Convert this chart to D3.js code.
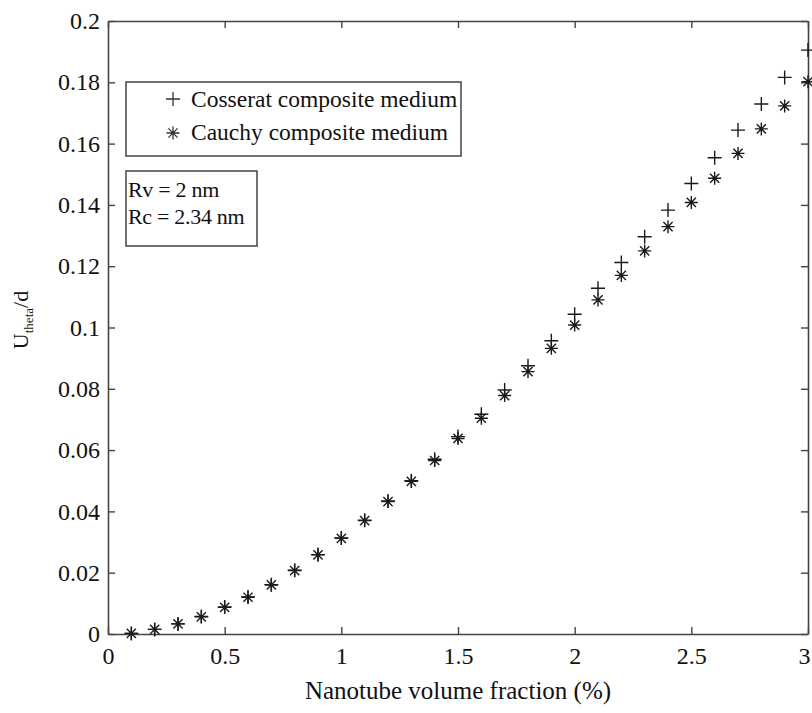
<!DOCTYPE html>
<html>
<head>
<meta charset="utf-8">
<script src="https://cdn.jsdelivr.net/npm/d3@7"></script>
<style>
  body { margin: 0; background: #fff; }
  text { font-family: "Liberation Serif", "Times New Roman", serif; fill: #111; }
</style>
</head>
<body>
<div id="chart"></div>
<script>
var w = 812;
var h = 713;

// data
var fraction = [0.1, 0.2, 0.3, 0.4, 0.5, 0.6, 0.7, 0.8, 0.9, 1.0,
                1.1, 1.2, 1.3, 1.4, 1.5, 1.6, 1.7, 1.8, 1.9, 2.0,
                2.1, 2.2, 2.3, 2.4, 2.5, 2.6, 2.7, 2.8, 2.9, 3.0];
var cosserat = [0.0002, 0.0015, 0.0033, 0.0057, 0.0088, 0.0121, 0.0161, 0.0208, 0.0259, 0.0313,
                0.0371, 0.0434, 0.0500, 0.0570, 0.0644, 0.0717, 0.0796, 0.0875, 0.0957, 0.1043,
                0.1128, 0.1212, 0.1296, 0.1383, 0.1470, 0.1554, 0.1644, 0.1729, 0.1816, 0.1905];
var cauchy   = [0.0002, 0.0015, 0.0033, 0.0056, 0.0087, 0.0120, 0.0160, 0.0207, 0.0258, 0.0312,
                0.0370, 0.0432, 0.0498, 0.0566, 0.0638, 0.0704, 0.0778, 0.0856, 0.0932, 0.1008,
                0.1090, 0.1170, 0.1250, 0.1329, 0.1408, 0.1487, 0.1568, 0.1648, 0.1723, 0.1802];
var xTicks = [0, 0.5, 1, 1.5, 2, 2.5, 3];
var xTickLabels = ["0", "0.5", "1", "1.5", "2", "2.5", "3"];
var yTicks = [0, 0.02, 0.04, 0.06, 0.08, 0.1, 0.12, 0.14, 0.16, 0.18, 0.2];
var yTickLabels = ["0", "0.02", "0.04", "0.06", "0.08", "0.1", "0.12", "0.14", "0.16", "0.18", "0.2"];
var seriesNames = ["Cosserat composite medium", "Cauchy composite medium"];
var noteLines = ["Rv = 2 nm", "Rc = 2.34 nm"];

var margin = {top: 21, right: 4, bottom: 79, left: 108};
var serif = "'Liberation Serif', 'Times New Roman', serif";

var x = d3.scaleLinear().domain([0, 3]).range([margin.left, w - margin.right]);
var y = d3.scaleLinear().domain([0, 0.2]).range([h - margin.bottom, margin.top]);

var svg = d3.select("#chart")
            .append("svg")
            .attr("width", w)
            .attr("height", h);

// marker shapes
function plusPath(s) {
  return "M" + (-s) + ",0H" + s + "M0," + (-s) + "V" + s;
}
function starPath(s) {
  var d = "";
  for (var k = 0; k < 4; k++) {
    var a = k * Math.PI / 4;
    var dx = s * Math.cos(a), dy = s * Math.sin(a);
    d += "M" + (-dx) + "," + (-dy) + "L" + dx + "," + dy;
  }
  return d;
}

// axes, MATLAB style ticks pointing inward on all four sides
var tickLen = 7;
function styleAxis(g) {
  g.attr("font-family", serif);
  g.selectAll("path.domain").attr("stroke", "#444").attr("stroke-width", 1.6);
  g.selectAll(".tick line").attr("stroke", "#444").attr("stroke-width", 1.4);
  g.selectAll(".tick text")
   .style("font-family", serif)
   .style("font-size", "24px")
   .attr("fill", "#111");
}

var xAxisG = svg.append("g")
   .attr("transform", "translate(0," + y(0) + ")")
   .call(d3.axisBottom(x).tickValues(xTicks)
           .tickFormat(function(d, i) { return xTickLabels[i]; })
           .tickSizeInner(-tickLen).tickSizeOuter(0).tickPadding(13))
   .call(styleAxis);
// last label sits at the page edge, pull it in a little
xAxisG.selectAll(".tick text")
   .filter(function(d) { return d === 3; })
   .attr("dx", -4);

svg.append("g")
   .attr("transform", "translate(0," + y(0.2) + ")")
   .call(d3.axisTop(x).tickValues(xTicks).tickFormat("")
           .tickSizeInner(-tickLen).tickSizeOuter(0))
   .call(styleAxis);

svg.append("g")
   .attr("transform", "translate(" + x(0) + ",0)")
   .call(d3.axisLeft(y).tickValues(yTicks)
           .tickFormat(function(d, i) { return yTickLabels[i]; })
           .tickSizeInner(-tickLen).tickSizeOuter(0).tickPadding(8))
   .call(styleAxis);

svg.append("g")
   .attr("transform", "translate(" + x(3) + ",0)")
   .call(d3.axisRight(y).tickValues(yTicks).tickFormat("")
           .tickSizeInner(-tickLen).tickSizeOuter(0))
   .call(styleAxis);

// data points
svg.append("g")
   .selectAll("path")
   .data(fraction)
   .enter()
   .append("path")
   .attr("transform", function(d, i) { return "translate(" + x(d) + "," + y(cauchy[i]) + ")"; })
   .attr("d", starPath(6.5))
   .attr("fill", "none")
   .attr("stroke", "#1a1a1a")
   .attr("stroke-width", 1.4);

svg.append("g")
   .selectAll("path")
   .data(fraction)
   .enter()
   .append("path")
   .attr("transform", function(d, i) { return "translate(" + x(d) + "," + y(cosserat[i]) + ")"; })
   .attr("d", plusPath(7))
   .attr("fill", "none")
   .attr("stroke", "#1a1a1a")
   .attr("stroke-width", 1.4);

// legend
var legend = svg.append("g");
legend.append("rect")
      .attr("x", 126).attr("y", 82)
      .attr("width", 335).attr("height", 74)
      .attr("fill", "#fff")
      .attr("stroke", "#444")
      .attr("stroke-width", 1.5);
legend.append("path")
      .attr("transform", "translate(173,99)")
      .attr("d", plusPath(7))
      .attr("stroke", "#333").attr("stroke-width", 1.3);
legend.append("path")
      .attr("transform", "translate(173,133)")
      .attr("d", starPath(6.5))
      .attr("stroke", "#333").attr("stroke-width", 1.3);
legend.selectAll("text.entry")
      .data(seriesNames)
      .enter()
      .append("text")
      .attr("class", "entry")
      .attr("x", 191)
      .attr("y", function(d, i) { return 107 + i * 33; })
      .style("font-family", serif)
      .style("font-size", "23.5px")
      .text(function(d) { return d; });

// parameter box
var note = svg.append("g");
note.append("rect")
    .attr("x", 126).attr("y", 171)
    .attr("width", 131).attr("height", 75)
    .attr("fill", "#fff")
    .attr("stroke", "#444")
    .attr("stroke-width", 1.5);
note.selectAll("text")
    .data(noteLines)
    .enter()
    .append("text")
    .attr("x", 128)
    .attr("y", function(d, i) { return 197 + i * 27; })
    .style("font-family", serif)
    .style("font-size", "22px")
    .style("letter-spacing", "-0.3px")
    .text(function(d) { return d; });

// axis titles
svg.append("text")
   .attr("x", (x(0) + x(3)) / 2)
   .attr("y", 699)
   .style("text-anchor", "middle")
   .style("font-family", serif)
   .style("font-size", "25px")
   .text("Nanotube volume fraction (%)");

var ylab = svg.append("text")
   .attr("transform", "translate(28,320) rotate(-90)")
   .style("text-anchor", "middle")
   .style("font-family", serif)
   .style("font-size", "22px");
ylab.append("tspan").text("U");
ylab.append("tspan").attr("dy", 5).style("font-size", "13px").text("theta");
ylab.append("tspan").attr("dy", -5).text("/d");
</script>
</body>
</html>
